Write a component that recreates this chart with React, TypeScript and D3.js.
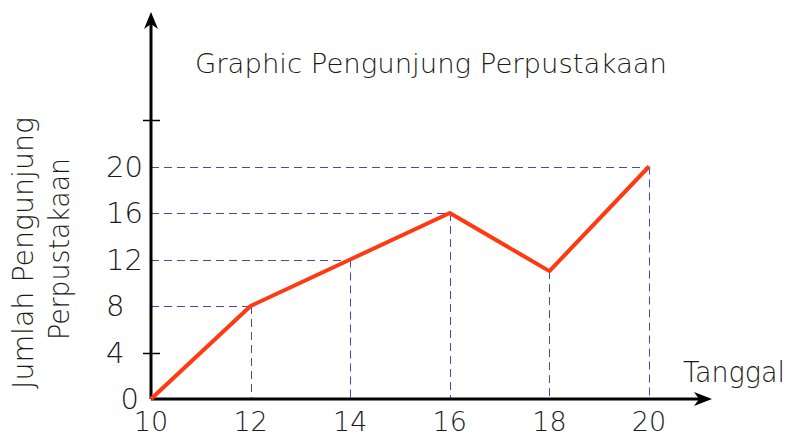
import React, { useEffect, useRef } from 'react';
import * as d3 from 'd3';

const tanggal = [10, 12, 14, 16, 18, 20];
const pengunjung = [0, 8, 12, 16, 11, 20];
const yTicks = [0, 4, 8, 12, 16, 20];
const title = 'Graphic Pengunjung Perpustakaan';
const xTitle = 'Tanggal';
const yTitle = ['Jumlah Pengunjung', 'Perpustakaan'];

const W = 793, H = 439;
const FONT = "'DejaVu Sans', 'Liberation Sans', sans-serif";

export default function App() {
  const ref = useRef<SVGSVGElement | null>(null);

  useEffect(() => {
    const svg = d3.select(ref.current);
    svg.selectAll('*').remove();

    const x = d3.scaleLinear().domain([10, 20]).range([151, 649]);
    const y = d3.scaleLinear().domain([0, 24]).range([399, 120]);
    const data = tanggal.map((t, i) => ({ t, v: pengunjung[i] }));
    const crisp = (n: number) => Math.round(n) + 0.5;

    // dashed guides
    const guides = svg.append('g')
      .attr('stroke', '#4646b4')
      .attr('stroke-width', 1)
      .attr('stroke-dasharray', '8,5');
    data.filter((d) => d.v > 0).forEach((d) => {
      guides.append('line')
        .attr('x1', crisp(x(d.t))).attr('x2', crisp(x(d.t)))
        .attr('y1', y(d.v)).attr('y2', y(0));
      if (yTicks.includes(d.v)) {
        guides.append('line')
          .attr('x1', x(10)).attr('x2', x(d.t))
          .attr('y1', crisp(y(d.v))).attr('y2', crisp(y(d.v)));
      }
    });

    // axes
    const axis = svg.append('g').attr('stroke', '#000').attr('stroke-width', 3);
    axis.append('line').attr('x1', x(10)).attr('x2', 700).attr('y1', y(0)).attr('y2', y(0));
    axis.append('line').attr('x1', x(10)).attr('x2', x(10)).attr('y1', y(0)).attr('y2', 22);
    svg.append('path')
      .attr('d', `M712,${y(0)} L694,${y(0) - 7} L699,${y(0)} L694,${y(0) + 7} Z`)
      .attr('fill', '#000');
    svg.append('path')
      .attr('d', `M${x(10)},12 L${x(10) - 7},29 L${x(10)},24 L${x(10) + 7},29 Z`)
      .attr('fill', '#000');
    [4, 24].forEach((v) => {
      svg.append('line')
        .attr('x1', x(10) - 8).attr('x2', x(10) + 9)
        .attr('y1', crisp(y(v))).attr('y2', crisp(y(v)))
        .attr('stroke', '#000').attr('stroke-width', 1.5);
    });

    // data line
    const line = d3.line<{ t: number; v: number }>()
      .x((d) => x(d.t))
      .y((d) => y(d.v));
    svg.append('path')
      .datum(data)
      .attr('d', line)
      .attr('fill', 'none')
      .attr('stroke', '#ff3a12')
      .attr('stroke-width', 4)
      .attr('stroke-linejoin', 'round');

    const txt = svg.append('g')
      .attr('font-family', FONT)
      .attr('font-weight', 200)
      .attr('fill', '#1a1a1a');

    yTicks.forEach((v) => {
      txt.append('text')
        .attr('x', v === 0 ? 139 : 106)
        .attr('y', y(v) + 10)
        .attr('text-anchor', v === 0 ? 'end' : 'start')
        .attr('font-size', 29)
        .text(v);
    });

    tanggal.forEach((t) => {
      txt.append('text')
        .attr('x', x(t))
        .attr('y', 431)
        .attr('text-anchor', 'middle')
        .attr('font-size', 27)
        .text(t);
    });

    txt.append('text')
      .attr('x', 431).attr('y', 73)
      .attr('text-anchor', 'middle')
      .attr('font-size', 27)
      .attr('textLength', 472)
      .attr('lengthAdjust', 'spacingAndGlyphs')
      .text(title);

    txt.append('text')
      .attr('x', 683).attr('y', 382)
      .attr('font-size', 28)
      .attr('textLength', 102)
      .attr('lengthAdjust', 'spacingAndGlyphs')
      .text(xTitle);

    yTitle.forEach((s, i) => {
      txt.append('text')
        .attr('transform', `translate(${33 + i * 36},${i === 0 ? 253 : 249}) rotate(-90)`)
        .attr('text-anchor', 'middle')
        .attr('font-size', 28)
        .attr('textLength', i === 0 ? 272 : 182)
        .attr('lengthAdjust', 'spacingAndGlyphs')
        .text(s);
    });
  }, []);

  return (
    <svg ref={ref} width={W} height={H}
      style={{ position: 'absolute', left: 0, top: 0, background: '#fff' }} />
  );
}
